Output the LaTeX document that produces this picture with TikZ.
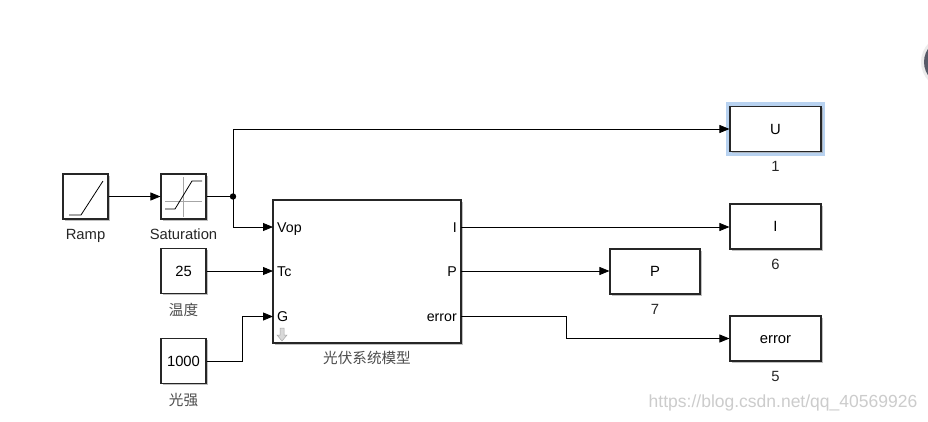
\documentclass[tikz,border=0pt]{standalone}
\usepackage{fontspec}
\setmainfont{Liberation Sans}
\newfontfamily\cjk{Noto Sans CJK SC}
\usetikzlibrary{arrows.meta,shadows}
\definecolor{hlblue}{RGB}{184,210,240}
\definecolor{circgray}{RGB}{88,90,104}
\begin{document}
\begin{tikzpicture}[x=1pt,y=-1pt,
  blk/.style={draw=black!85, line width=1.1pt, fill=white, inner sep=0pt,
    drop shadow={shadow xshift=1.6pt,shadow yshift=-1.6pt,fill=black!35,opacity=0.7}},
  sq/.style={blk, minimum width=45pt, minimum height=45pt},
  outb/.style={blk, minimum width=91pt, minimum height=45pt},
  lbl/.style={font=\fontsize{14.8}{16}\selectfont, text=black!85, inner sep=0pt, text height=10.6pt, text depth=0pt},
  txt/.style={font=\fontsize{14.8}{16}\selectfont, inner sep=0pt, text height=10.6pt, text depth=0pt},
  ptxt/.style={font=\fontsize{14.2}{16}\selectfont, inner sep=0pt, text height=10.2pt, text depth=0pt},
  clbl/.style={font=\cjk\fontsize{14.6}{16}\selectfont, text=black!70, inner sep=0pt},
  conn/.style={line width=0.8pt, -{Triangle[length=10pt,width=8pt]}},
  wire/.style={line width=0.8pt}]
\useasboundingbox (0,0) rectangle (928,421);
\clip (0,0) rectangle (928,421);
\fill[white] (0,0) rectangle (928,421);

% top-right partial circle
\fill[black!8] (948,62) circle (27);
\fill[circgray] (948,62) circle (24);

% blocks
\node[sq] (ramp) at (85.5,196.5) {};
\node[sq] (sat) at (183.5,196.5) {};
\node[sq] (c25) at (183.5,271) {};
\node[sq] (c1000) at (183.5,361) {};
\node[blk, minimum width=188pt, minimum height=143pt] (model) at (367,271.5) {};
\node[draw=hlblue, line width=4pt, minimum width=95pt, minimum height=50pt] (Uhl) at (775.5,129) {};
\node[outb] (U) at (775.5,129) {};
\node[outb] (I) at (775.5,226.5) {};
\node[blk, minimum width=90pt, minimum height=45pt] (P) at (655,271.5) {};
\node[outb] (err) at (775.5,338.5) {};

% block contents
\node[txt] at (c25) {25};
\node[txt] at (c1000) {1000};
\node[txt] at (U) {U};
\node[txt] at (I) {I};
\node[txt] at (P) {P};
\node[txt] at (err) {error};

% ramp icon
\draw[line width=0.8pt] (69,215) -- (81,215) -- (103,181);
% saturation icon
\draw[black!35, line width=0.5pt] (183,177) -- (183,217) (165,201) -- (202,201);
\draw[line width=0.8pt] (165,209) -- (175,209) -- (192,181) -- (202,181);

% port labels
\node[ptxt, anchor=west] at (277,227) {Vop};
\node[ptxt, anchor=west] at (277,271) {Tc};
\node[ptxt, anchor=west] at (277,316.5) {G};
\node[ptxt, anchor=east] at (457,227) {I};
\node[ptxt, anchor=east] at (457,271) {P};
\node[ptxt, anchor=east] at (457,316.5) {error};
% down arrow icon
\draw[black!35, fill=black!15, line width=0.5pt] (280,328) -- (284,328) -- (284,335) -- (287,335) -- (282,341) -- (277,335) -- (280,335) -- cycle;

% labels under blocks
\node[lbl] at (85.5,234) {Ramp};
\node[lbl] at (183.5,234) {Saturation};
\node[clbl] at (183.5,310) {温度};
\node[clbl] at (183.5,400) {光强};
\node[clbl] at (367,358) {光伏系统模型};
\node[lbl] at (775.5,166) {1};
\node[lbl] at (775.5,264) {6};
\node[lbl] at (655,309) {7};
\node[lbl] at (775.5,376) {5};

% ports
\coordinate (vop) at (273,227);
\coordinate (tc) at (273,271);
\coordinate (g) at (273,316.5);
\coordinate (oI) at (461,227);
\coordinate (oP) at (461,271);
\coordinate (oE) at (461,316.5);
\coordinate (j) at (233,196.5);

% connectors
\draw[conn] (ramp.east) -- (sat.west);
\draw[wire] (sat.east) -- (j);
\fill (j) circle (3.2);
\draw[conn] (j) |- (U.west);
\draw[conn] (j) |- (vop);
\draw[conn] (c25.east) -- (tc);
\draw[conn] (c1000.east) -- (242,361) |- (g);
\draw[conn] (oI) -- (oI -| I.west);
\draw[conn] (oP) -- (oP -| P.west);
\draw[conn] (oE) -- (566,316.5) |- (err.west);

% watermark
\node[font=\fontsize{17.5}{19}\selectfont, text=black!20, inner sep=0pt] at (783,403) {https://blog.csdn.net/qq\_40569926};
\end{tikzpicture}
\end{document}
